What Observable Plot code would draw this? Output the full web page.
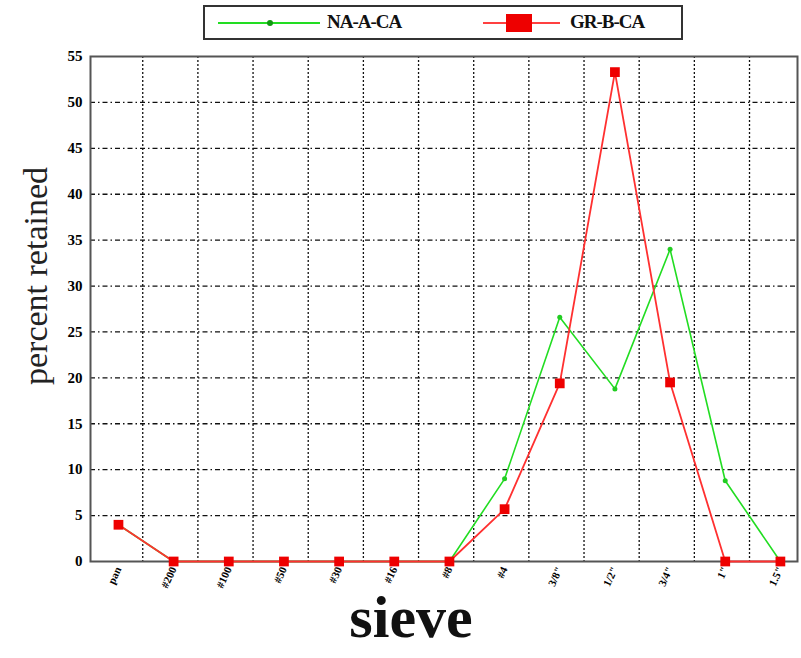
<!DOCTYPE html>
<html><head><meta charset="utf-8">
<script src="https://cdn.jsdelivr.net/npm/d3@7"></script>
<script src="https://cdn.jsdelivr.net/npm/@observablehq/plot@0.6"></script>
<style>
body{margin:0;background:#fff;width:801px;height:658px;overflow:hidden;font-family:"Liberation Serif",serif}
#legend{position:relative;height:45px}
#box{position:absolute;left:203px;top:5px;width:476px;height:31px;border:2px solid #333;background:#fff}
.ln{position:absolute;height:2px;top:15px}
.lbl{position:absolute;top:4px;font-weight:bold;font-size:19px;letter-spacing:-1px;color:#111}
</style>
</head><body>
<div id="legend"><div id="box">
  <div class="ln" style="left:13px;width:102px;background:#22dd22"></div>
  <div style="position:absolute;left:62px;top:13px;width:6px;height:6px;border-radius:3px;background:#119911"></div>
  <div class="lbl" style="left:122px">NA-A-CA</div>
  <div class="ln" style="left:278px;width:77px;background:#ff4040"></div>
  <div style="position:absolute;left:301px;top:7px;width:26px;height:18px;background:#ee0000"></div>
  <div class="lbl" style="left:365px">GR-B-CA</div>
</div></div>
<div id="chart"></div>
<script>
const sieves = ["pan","#200","#100","#50","#30","#16","#8","#4","3/8\"","1/2\"","3/4\"","1\"","1.5\""];
const naaca = [4,0,0,0,0,0,0,9,26.6,18.8,34,8.8,0];
const grbca = [4,0,0,0,0,0,0,5.7,19.4,53.3,19.5,0,0];
const yTicks = [0,5,10,15,20,25,30,35,40,45,50,55];
const gridY = [5,10,15,20,25,30,35,40,45,50];

const rows = sieves.map((s,i)=>({i, s, na: naaca[i], gr: grbca[i]}));
const gridX = d3.range(12).map(i => i + 0.44);

const chart = Plot.plot({
  width: 801, height: 613,
  marginTop: 11, marginLeft: 90, marginRight: 4, marginBottom: 97,
  style: {fontFamily: "Liberation Serif, serif", background: "white", overflow: "visible"},
  x: {type: "linear", domain: [-0.507, 12.31], axis: null},
  y: {domain: [0, 55], axis: null},
  marks: [
    Plot.ruleY(gridY, {stroke: "#111", strokeDasharray: "5,3,1.5,3", strokeWidth: 1.3}),
    Plot.ruleX(gridX, {stroke: "#111", strokeDasharray: "2,2", strokeWidth: 1.3}),
    Plot.frame({stroke: "#555", strokeWidth: 2}),
    Plot.axisY({ticks: yTicks, tickSize: 0, tickPadding: 8, fontSize: 15, fontWeight: "bold", label: null}),
    Plot.axisX({ticks: d3.range(13), tickFormat: i => sieves[i], tickSize: 0, tickRotate: -65, tickPadding: 6, fontSize: 11, fontWeight: "bold", label: null}),
    Plot.line(rows, {x: "i", y: "na", stroke: "#22dd22", strokeWidth: 1.6}),
    Plot.line(rows, {x: "i", y: "gr", stroke: "#ff3030", strokeWidth: 1.8}),
    Plot.dot(rows, {x: "i", y: "na", r: 2.5, fill: "#22cc22"}),
    Plot.dot(rows, {x: "i", y: "gr", symbol: "square", r: 5.5, fill: "#ee0000"}),
    Plot.text(["percent retained"], {frameAnchor: "left", rotate: -90, dx: -54, dy: 76, fontSize: 34, fill: "#222"}),
    Plot.text(["sieve"], {frameAnchor: "bottom", dx: -33, dy: 75, fontSize: 60, fontWeight: "bold", fill: "#111"})
  ]
});
document.getElementById("chart").append(chart);
</script>
</body></html>
